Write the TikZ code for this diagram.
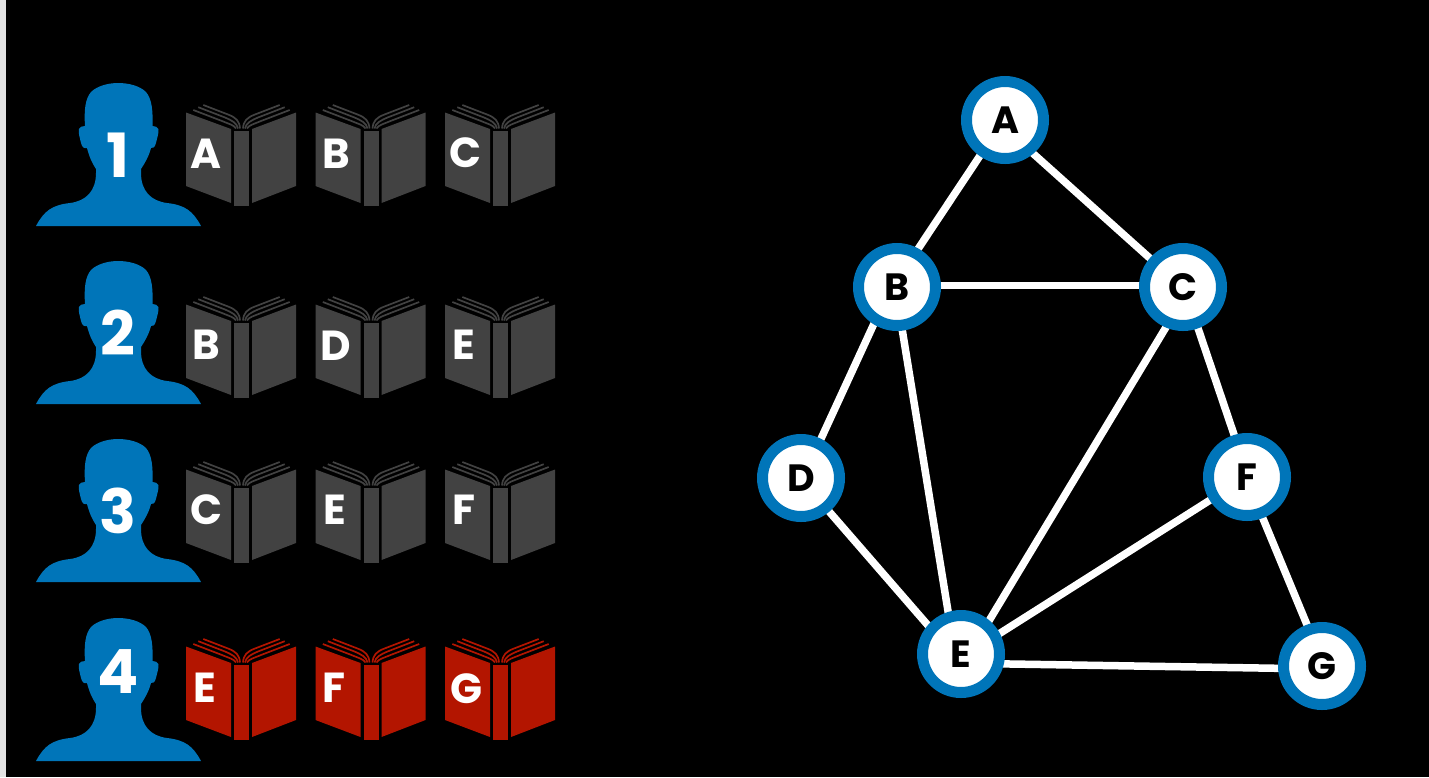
\documentclass[tikz,border=0pt]{standalone}
\usepackage{fontspec}
\usetikzlibrary{backgrounds}
\setmainfont{Poppins}[UprightFont=* SemiBold,BoldFont=* Bold]
\definecolor{inkblue}{HTML}{0075B9}
\definecolor{bookgrey}{HTML}{424242}
\definecolor{bookred}{HTML}{B31500}
\definecolor{edgegrey}{HTML}{E3E3E3}
\tikzset{
  person/.pic={
    \fill[inkblue] (36,143)
      .. controls (44,128) and (52,122) .. (70,120)
      .. controls (86,118) and (96,108) .. (96,90)
      -- (96,86)
      .. controls (92,80) and (89,73) .. (87,65)
      .. controls (84,66) and (82,64) .. (81,60)
      .. controls (80,55) and (78,50) .. (79,46)
      .. controls (79.5,44) and (82,43) .. (85,43)
      .. controls (84,28) and (85,16) .. (91,9)
      .. controls (97,3) and (108,0) .. (118,0)
      .. controls (129,0) and (140,3) .. (146,9)
      .. controls (152,16) and (153,28) .. (152.5,43)
      .. controls (155,43) and (158,44) .. (158.5,46)
      .. controls (159,50) and (157,55) .. (156,60)
      .. controls (155,64) and (153,66) .. (151,65)
      .. controls (149,73) and (145,80) .. (141,86)
      -- (141,90)
      .. controls (141,108) and (151,118) .. (167,120)
      .. controls (185,122) and (193,128) .. (201,143)
      -- cycle;
  },
  pics/bookicon/.style={code={
    \fill[#1] (186,9.5) -- (231,26) -- (231,100) -- (186,83) -- cycle;
    \fill[#1] (234,27.5) -- (249,27.5) -- (249,103) -- (234,103) -- cycle;
    \fill[#1] (252,26) -- (296,9.5) -- (296,83) -- (252,100) -- cycle;
    \begin{scope}[draw=#1,line width=1.7pt]
      \draw (203.3,2) -- (228,11.5) .. controls (236,14.5) and (239.5,18) .. (240,25.5);
      \draw (198.3,4.2) -- (225,14.5) .. controls (232,17.5) and (237,20) .. (238,25.5);
      \draw (193.3,7) -- (222,18) .. controls (229,21) and (234,22) .. (236,25.5);
      \draw (279.7,2) -- (255,11.5) .. controls (247,14.5) and (243.5,18) .. (243,25.5);
      \draw (284.7,4.2) -- (258,14.5) .. controls (251,17.5) and (246,20) .. (245,25.5);
      \draw (289.7,7) -- (261,18) .. controls (254,21) and (249,22) .. (247,25.5);
    \end{scope}
  }},
  booklabel/.style={text=white,font=\fontsize{42}{42}\selectfont\bfseries,inner sep=0pt},
  digit/.style={text=white,font=\fontsize{61}{61}\selectfont\bfseries,inner sep=0pt},
  vertex/.style={circle,draw=inkblue,fill=white,line width=11pt,minimum size=77pt,inner sep=0pt,
    text=black,font=\fontsize{38}{38}\selectfont\bfseries},
  link/.style={draw=white,line width=7.5pt,shorten <=-3pt,shorten >=-3pt}
}
\begin{document}
\begin{tikzpicture}[x=1pt,y=-1pt]
  \useasboundingbox (0,0) rectangle (1429,777);

  % readers
  \pic at (0,83) {person};
  \pic at (0,261) {person};
  \pic at (0,439) {person};
  \pic at (0,618) {person};
  \node[digit] (n1) at (118,155) {1};
  \node[digit] (n2) at (118,333) {2};
  \node[digit] (n3) at (118,511) {3};
  \node[digit] (n4) at (118,672) {4};

  % books held by each reader
  \foreach \dx in {0,129.5,259}{
    \pic at (\dx,103) {bookicon=bookgrey};
    \pic at (\dx,295) {bookicon=bookgrey};
    \pic at (\dx,460) {bookicon=bookgrey};
    \pic at (\dx,637) {bookicon=bookred};
  }
  \node[booklabel] (a1) at (206,154) {A};
  \node[booklabel] (b1) at (336,154) {B};
  \node[booklabel] (c1) at (465,153) {C};
  \node[booklabel] (b2) at (206,345) {B};
  \node[booklabel] (d2) at (336,346) {D};
  \node[booklabel] (e2) at (464,345) {E};
  \node[booklabel] (c3) at (206,510) {C};
  \node[booklabel] (e3) at (335,510) {E};
  \node[booklabel] (f3) at (464,510) {F};
  \node[booklabel] (e4) at (205,688) {E};
  \node[booklabel] (f4) at (334,688) {F};
  \node[booklabel] (g4) at (466,689) {G};

  % graph of co-read books
  \node[vertex] (A) at (1005,120) {A};
  \node[vertex] (B) at (897,287) {B};
  \node[vertex] (C) at (1183,287) {C};
  \node[vertex] (D) at (801,478) {D};
  \node[vertex] (E) at (961,654) {E};
  \node[vertex] (F) at (1247,477) {F};
  \node[vertex] (G) at (1322,666) {G};

  \begin{scope}[on background layer]
    \fill[black] (0,0) rectangle (1429,777);
    \fill[edgegrey] (0,0) rectangle (6,777);
    \path[link] (A.-125) -- (B.61);
    \path[link] (A.-50) -- (C.139);
    \path[link] (B.2) -- (C.178);
    \path[link] (B.-122) -- (D.63);
    \path[link] (B.-83) -- (E.107);
    \path[link] (C.-113) -- (E.50);
    \path[link] (C.-70) -- (F.107);
    \path[link] (D.-50) -- (E.139);
    \path[link] (E.28) -- (F.-148);
    \path[link] (E.-13) -- (G.183);
    \path[link] (F.-69) -- (G.110);
  \end{scope}
\end{tikzpicture}
\end{document}
